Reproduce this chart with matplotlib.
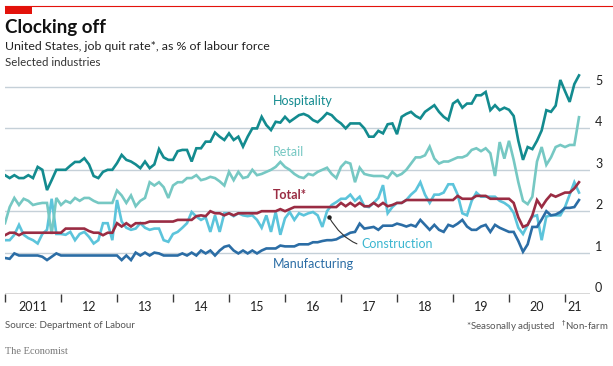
import numpy as np
import matplotlib
matplotlib.use("Agg")
import matplotlib.pyplot as plt

plt.rcParams["font.family"] = ["Lato", "DejaVu Sans"]

# monthly quit rates, Jan 2011 - Apr 2021 (% of labour force)
hospitality = [
    2.87, 2.80, 2.87, 2.80, 2.80, 2.87, 2.80, 3.07, 3.00, 2.51, 2.75, 3.00,  # 2011
    3.00, 3.00, 3.10, 3.19, 3.19, 3.28, 3.13, 2.85, 2.80, 2.95, 3.00, 3.00,  # 2012
    3.16, 3.36, 3.24, 3.20, 3.13, 3.04, 3.20, 3.04, 3.13, 3.50, 3.30, 3.24,  # 2013
    3.24, 3.45, 3.48, 3.48, 3.20, 3.52, 3.52, 3.68, 3.68, 3.90, 3.80, 3.72,  # 2014
    3.88, 3.72, 3.80, 3.56, 3.80, 4.00, 4.00, 4.28, 4.08, 3.96, 4.16, 4.14,  # 2015
    4.28, 4.16, 4.24, 4.32, 4.35, 4.30, 4.20, 4.15, 4.25, 4.37, 4.32, 4.20,  # 2016
    4.12, 4.00, 4.12, 4.12, 4.12, 4.00, 3.80, 3.80, 3.94, 3.88, 4.10, 4.12,  # 2017
    3.86, 4.28, 4.35, 4.40, 4.30, 4.24, 4.40, 4.48, 4.56, 4.40, 4.28, 4.20,  # 2018
    4.60, 4.68, 4.50, 4.60, 4.60, 4.80, 4.80, 4.88, 4.44, 4.56, 4.44, 4.50,  # 2019
    4.45, 4.30, 3.70, 3.24, 3.55, 3.50, 3.70, 3.95, 4.44, 4.40, 4.55, 5.17,  # 2020
    4.90, 4.64, 5.07, 5.28,                                                  # 2021
]
retail = [
    1.71, 2.10, 2.32, 2.15, 2.30, 2.25, 2.15, 2.18, 2.20, 2.20, 1.45, 2.32,
    2.15, 2.25, 2.20, 2.32, 2.25, 2.32, 2.32, 2.25, 2.20, 2.20, 2.20, 2.20,
    2.50, 2.38, 2.20, 2.38, 2.12, 2.25, 2.32, 2.70, 2.62, 2.70, 2.58, 2.32,
    2.62, 2.70, 2.70, 2.80, 2.80, 2.87, 2.75, 2.78, 2.83, 2.80, 2.72, 2.62,
    2.95, 2.75, 2.95, 2.80, 2.83, 3.00, 2.87, 2.90, 2.95, 3.00, 3.07, 3.19,
    3.07, 3.00, 2.90, 2.83, 2.80, 2.90, 2.87, 2.95, 3.00, 3.05, 2.90, 2.80,
    3.07, 3.19, 3.15, 2.70, 3.05, 2.90, 2.87, 2.85, 2.85, 2.85, 2.80, 2.95,
    2.85, 2.90, 3.00, 3.15, 3.30, 3.30, 3.35, 3.56, 3.27, 3.15, 3.20, 3.20,
    3.25, 3.30, 3.30, 3.35, 3.48, 3.52, 3.45, 3.52, 3.40, 2.85, 3.67, 3.27,
    3.70, 3.24, 2.70, 2.25, 2.17, 2.35, 3.20, 3.55, 3.12, 3.30, 3.55, 3.60,
    3.55, 3.60, 3.60, 4.27,
]
construction = [
    1.30, 1.30, 1.43, 1.67, 1.43, 1.35, 1.30, 1.22, 1.45, 1.55, 2.30, 1.45,
    1.45, 1.43, 1.50, 1.30, 1.45, 1.50, 1.38, 1.22, 1.30, 1.71, 1.71, 1.30,
    2.27, 1.75, 1.60, 1.55, 1.58, 1.71, 1.60, 1.55, 1.58, 1.58, 1.30, 1.26,
    1.45, 1.50, 1.60, 1.71, 1.98, 1.87, 1.79, 1.85, 1.50, 1.90, 1.50, 1.95,
    1.95, 1.88, 1.95, 1.90, 1.88, 1.90, 1.79, 1.60, 1.90, 1.50, 1.98, 1.43,
    1.83, 1.98, 1.79, 1.95, 1.90, 1.95, 1.98, 1.90, 1.62, 2.00, 2.15, 2.22,
    2.30, 2.30, 2.40, 2.25, 2.35, 2.12, 2.10, 2.20, 2.32, 2.63, 1.95, 2.10,
    2.20, 2.20, 2.27, 2.40, 2.50, 2.70, 2.40, 2.20, 2.40, 2.40, 2.45, 2.65,
    2.65, 2.40, 1.95, 1.90, 2.25, 2.45, 2.35, 2.35, 2.35, 2.35, 2.25, 2.20,
    2.12, 1.96, 1.60, 1.45, 1.67, 1.87, 1.90, 1.30, 1.87, 1.90, 1.90, 1.90,
    2.10, 2.40, 2.70, 2.45,
]
manufacturing = [
    0.87, 0.85, 0.98, 0.93, 0.93, 0.93, 0.93, 0.93, 0.90, 0.82, 0.90, 0.98,
    0.93, 0.93, 0.93, 0.93, 0.93, 0.93, 0.93, 0.93, 0.93, 0.93, 0.93, 0.93,
    0.93, 0.82, 0.93, 0.82, 1.00, 0.93, 1.00, 0.93, 1.00, 0.98, 0.93, 0.93,
    0.93, 0.93, 0.98, 0.93, 1.00, 0.93, 1.05, 0.98, 1.05, 0.93, 1.05, 1.14,
    1.17, 1.05, 0.98, 1.05, 0.98, 1.05, 0.98, 1.05, 1.10, 1.10, 1.10, 1.17,
    1.15, 1.15, 1.15, 1.20, 1.20, 1.20, 1.25, 1.25, 1.28, 1.30, 1.30, 1.32,
    1.38, 1.42, 1.48, 1.50, 1.70, 1.58, 1.60, 1.62, 1.55, 1.65, 1.65, 1.65,
    1.70, 1.67, 1.63, 1.67, 1.63, 1.79, 1.67, 1.55, 1.67, 1.55, 1.50, 1.67,
    1.63, 1.70, 1.79, 1.63, 1.55, 1.55, 1.63, 1.67, 1.50, 1.67, 1.60, 1.55,
    1.50, 1.50, 1.28, 1.02, 1.20, 1.62, 1.62, 1.80, 2.00, 1.90, 1.92, 1.98,
    2.08, 2.08, 2.10, 2.27,
]
total = [
    1.42, 1.48, 1.48, 1.42, 1.48, 1.48, 1.48, 1.48, 1.48, 1.48, 1.48, 1.48,
    1.48, 1.58, 1.58, 1.58, 1.58, 1.58, 1.52, 1.48, 1.48, 1.42, 1.48, 1.48,
    1.71, 1.63, 1.71, 1.63, 1.71, 1.71, 1.71, 1.75, 1.75, 1.75, 1.75, 1.75,
    1.75, 1.79, 1.79, 1.79, 1.79, 1.88, 1.90, 1.88, 2.00, 1.95, 1.95, 1.90,
    1.95, 1.90, 1.95, 1.95, 1.95, 1.95, 1.95, 2.00, 2.00, 2.00, 2.00, 2.05,
    2.00, 2.05, 2.10, 2.10, 2.10, 2.10, 2.10, 2.10, 2.10, 2.10, 2.10, 2.10,
    2.20, 2.12, 2.20, 2.12, 2.20, 2.12, 2.12, 2.20, 2.12, 2.20, 2.12, 2.15,
    2.20, 2.20, 2.27, 2.27, 2.27, 2.27, 2.27, 2.27, 2.27, 2.27, 2.27, 2.27,
    2.27, 2.37, 2.30, 2.30, 2.30, 2.37, 2.37, 2.37, 2.30, 2.30, 2.30, 2.30,
    2.30, 2.20, 1.85, 1.62, 1.67, 1.90, 2.27, 2.10, 2.27, 2.40, 2.35, 2.40,
    2.45, 2.45, 2.55, 2.70,
]
year_labels = ["2011", "12", "13", "14", "15", "16", "17", "18", "19", "20", "21"]

months = 2011 + np.arange(len(total)) / 12

c_hosp = "#138b8f"
c_retail = "#76c8c3"
c_constr = "#5cc4db"
c_manuf = "#2b6da5"
c_total = "#9a2c43"
grid_c = "#c5d0d8"

W, H = 613, 366
fig = plt.figure(figsize=(W / 100, H / 100), dpi=100)

# plot area: x pixels 5..590, y=0 at pixel 294, 41.4 px per unit
x0, x1 = 5, 590
ytop = 5.4
ax = fig.add_axes([x0 / W, (H - 294) / H, (x1 - x0) / W, ytop * 41.4 / H])
ax.set_xlim(2011, 2011 + (x1 - x0) / 56)
ax.set_ylim(0, ytop)

for v in range(1, 6):
    ax.axhline(v, color=grid_c, lw=1.0, zorder=1)
ax.axhline(0, color="#3a3a3a", lw=1.0, zorder=6)

lw = 1.9
ax.plot(months, construction, color=c_constr, lw=lw, zorder=2, solid_joinstyle="miter")
ax.plot(months, retail, color=c_retail, lw=lw, zorder=3, solid_joinstyle="miter")
ax.plot(months, manufacturing, color=c_manuf, lw=lw, zorder=3, solid_joinstyle="miter")
ax.plot(months, hospitality, color=c_hosp, lw=lw, zorder=4, solid_joinstyle="miter")
ax.plot(months, total, color=c_total, lw=lw, zorder=5, solid_joinstyle="miter")

for s in ax.spines.values():
    s.set_visible(False)

ax.set_yticks([])
ax.set_xticks(np.arange(2011, 2022))
ax.set_xticklabels([])
ax.tick_params(axis="x", which="major", length=6, width=1, color="#3a3a3a", direction="out")
mids = [y + 0.5 for y in range(2011, 2021)] + [2021 + 19 / 56 / 2]
ax.set_xticks(mids, minor=True)
ax.set_xticklabels(year_labels, minor=True, fontsize=9, color="#222222")
ax.tick_params(axis="x", which="minor", length=0, pad=5)

# right-hand value labels, sitting just above the gridlines
for v in range(0, 6):
    ax.text(1.0 + 5 / (x1 - x0), v + 2 / 41.4, str(v), transform=ax.get_yaxis_transform(),
            ha="left", va="baseline", fontsize=9, color="#222222", clip_on=False)


def px(x):
    return 2011 + (x - 5) / 56


def py(y):
    return (294 - y) / 41.4


lab = dict(fontsize=9, va="center", ha="left", zorder=7)
ax.text(px(273), py(101), "Hospitality", color=c_hosp, **lab)
ax.text(px(273), py(152), "Retail", color=c_retail, **lab)
ax.text(px(273), py(195), "Total*", color=c_total, fontweight="bold", **lab)
ax.text(px(273), py(264), "Manufacturing", color=c_manuf, **lab)
ax.annotate("Construction", xy=(px(329), py(217)), xytext=(px(361), py(244)),
            color="#3bb6d0", fontsize=9, va="center", ha="left", zorder=7,
            arrowprops=dict(arrowstyle="-", color="#333333", lw=0.8,
                            connectionstyle="arc3,rad=-0.4", shrinkA=1, shrinkB=0))
ax.plot([px(329)], [py(217)], "o", color="#222222", ms=2.2, zorder=8)

# header
fig.add_artist(plt.Line2D([5 / W, 1], [1 - 6 / H, 1 - 6 / H], color="#e3120b", lw=0.8))
fig.add_artist(plt.Rectangle((5 / W, 1 - 14 / H), 27 / W, 8 / H, color="#e3120b", lw=0))
fig.text(5 / W, 1 - 27 / H, "Clocking off", fontsize=13.5, fontweight="bold",
         color="#111111", va="center", ha="left")
fig.text(5 / W, 1 - 46 / H, "United States, job quit rate*, as % of labour force",
         fontsize=8.9, color="#222222", va="center", ha="left")
fig.text(5 / W, 1 - 62 / H, "Selected industries", fontsize=8.3, color="#333333",
         va="center", ha="left")

# footer
fig.text(5 / W, 1 - 326 / H, "Source: Department of Labour", fontsize=7,
         color="#555555", va="center", ha="left")
fig.text(608 / W, 1 - 326 / H, "*Seasonally adjusted   $^{\\dagger}$Non-farm", fontsize=7,
         color="#555555", va="center", ha="right")
fig.text(5 / W, 1 - 352 / H, "The Economist", fontsize=7.5, color="#777777",
         family=["Liberation Serif", "DejaVu Serif"], va="center", ha="left")

fig.savefig("out.png", dpi=100)
